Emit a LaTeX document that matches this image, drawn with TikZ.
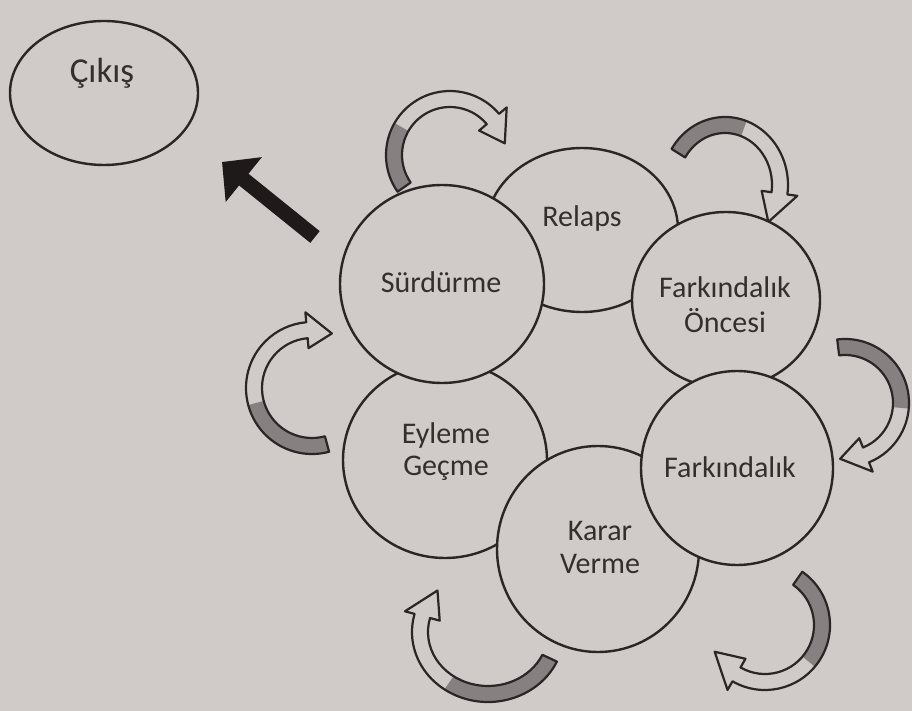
\documentclass[tikz,border=0pt]{standalone}
\usepackage{fontspec}
\setmainfont{Carlito}
\usetikzlibrary{shapes.geometric,arrows.meta}
\definecolor{bg}{HTML}{D0CAC8}
\definecolor{ink}{HTML}{2A2626}
\definecolor{agrey}{HTML}{878080}
\definecolor{txt}{HTML}{342F2F}
\definecolor{blk}{HTML}{1E1A1A}
\newcommand\bandw{8}
\newcommand\headw{18}
% #1 cx, #2 cy (screen), #3 rx, #4 ry, #5 tail angle, #6 grey end, #7 head base, #8 tip
\newcommand\cycarrow[8]{%
 \begin{scope}[shift={(#1,-#2)}]
  \pgfmathsetmacro\rxo{#3+\bandw}\pgfmathsetmacro\ryo{#4+\bandw}
  \pgfmathsetmacro\rxi{#3-\bandw}\pgfmathsetmacro\ryi{#4-\bandw}
  \pgfmathsetmacro\rxO{#3+\headw}\pgfmathsetmacro\ryO{#4+\headw}
  \pgfmathsetmacro\rxI{#3-\headw}\pgfmathsetmacro\ryI{#4-\headw}
  \fill[agrey] (#5:\rxo\space and \ryo) arc[start angle=#5,end angle=#6,x radius=\rxo,y radius=\ryo]
    -- (#6:\rxi\space and \ryi) arc[start angle=#6,end angle=#5,x radius=\rxi,y radius=\ryi] -- cycle;
  \draw[arrowline] (#5:\rxo\space and \ryo) arc[start angle=#5,end angle=#7,x radius=\rxo,y radius=\ryo]
    -- (#7:\rxO\space and \ryO) -- (#8:#3 and #4) -- (#7:\rxI\space and \ryI)
    -- (#7:\rxi\space and \ryi) arc[start angle=#7,end angle=#5,x radius=\rxi,y radius=\ryi] -- cycle;
 \end{scope}}
\begin{document}
\begin{tikzpicture}[x=1pt,y=1pt,
  bubble/.style={ellipse, draw=ink, line width=2.4pt, fill=bg, inner sep=0pt},
  lbl/.style={text=txt, font=\fontsize{30}{33}\selectfont, anchor=base, inner sep=0pt},
  arrowline/.style={draw=ink, line width=2.2pt, line join=round}]
\fill[bg] (0,0) rectangle (912,-711);
\useasboundingbox (0,0) rectangle (912,-711);

% curved cycle arrows
\cycarrow{450}{155}{56}{56}{215}{150}{40}{12}
\cycarrow{725}{185}{55}{60}{148}{70}{-8}{-38}
\cycarrow{845}{403}{56}{56}{97}{-5}{-68}{-95}
\cycarrow{765}{625}{57}{57}{55}{-40}{-120}{-152}
\cycarrow{488}{632}{68}{62}{-25}{-125}{-195}{-222}
\cycarrow{312}{388}{58}{58}{-75}{-165}{-265}{-290}

% circles
\node[bubble, minimum width=188, minimum height=144] (cikis) at (104,-93) {};
\node[bubble, minimum width=192, minimum height=164] (relaps) at (582,-230) {};
\node[bubble, minimum width=188, minimum height=176] (fo) at (726,-300) {};
\node[bubble, minimum width=204, minimum height=196] (eyleme) at (445,-460) {};
\node[bubble, minimum width=202, minimum height=206] (karar) at (598,-549) {};
\node[bubble, minimum width=192, minimum height=194] (fark) at (737,-468) {};
\node[bubble, minimum width=204, minimum height=198] (surdurme) at (442,-284) {};

% labels
\node[lbl, font=\fontsize{35}{38}\selectfont] (t-cikis) at (102,-83) {Çıkış};
\node[lbl] (t-relaps) at (582,-226) {Relaps};
\node[lbl] (t-surdurme) at (441,-292) {Sürdürme};
\node[lbl] (t-fo1) at (725,-297) {Farkındalık};
\node[lbl] (t-fo2) at (725,-332) {Öncesi};
\node[lbl] (t-ey1) at (446,-443) {Eyleme};
\node[lbl] (t-ey2) at (446,-475) {Geçme};
\node[lbl] (t-fark) at (730,-477) {Farkındalık};
\node[lbl] (t-kar1) at (600,-540) {Karar};
\node[lbl] (t-kar2) at (600,-573) {Verme};

% exit arrow
\coordinate (exitfrom) at (315,-237);
\coordinate (exitto) at (222,-162);
\draw[blk, line width=15pt, -{Triangle[length=28pt,width=56pt]}] (exitfrom) -- (exitto);
\end{tikzpicture}
\end{document}
